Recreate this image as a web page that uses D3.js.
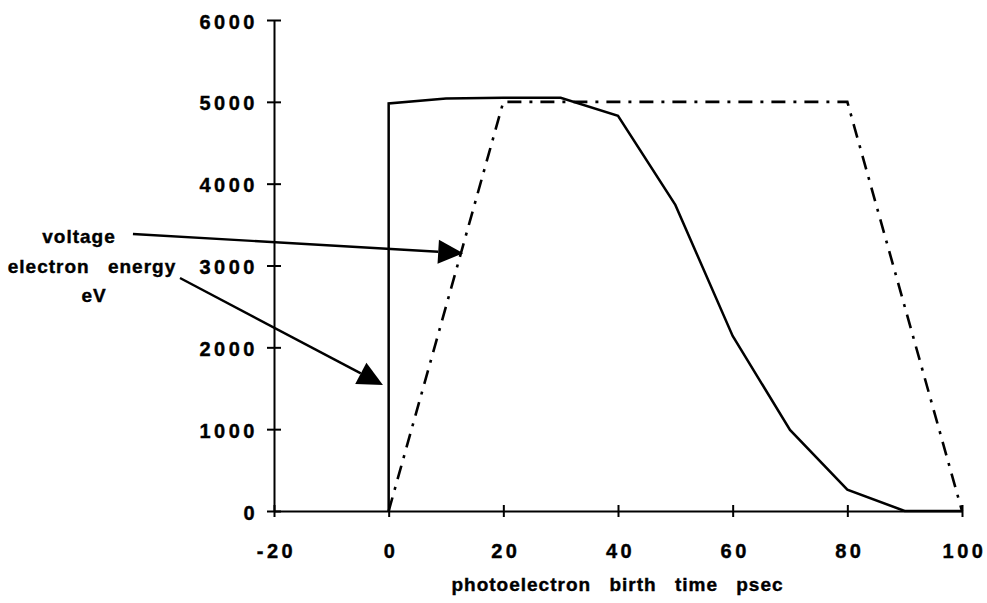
<!DOCTYPE html>
<html>
<head>
<meta charset="utf-8">
<script src="https://cdn.jsdelivr.net/npm/d3@7"></script>
<style>
  body { margin: 0; background: #fff; }
  svg text { font-family: "Liberation Sans", Arial, Helvetica, sans-serif; font-weight: bold; fill: #000; stroke: #000; stroke-width: 0.4px; }
</style>
</head>
<body>
<svg width="987" height="603"></svg>
<script>
// birth time (psec) and energies (eV)
var energyTime = [0, 0, 10, 20, 30, 40, 50, 60, 70, 80, 90, 100];
var energyValue = [0, 4980, 5040, 5050, 5050, 4830, 3740, 2140, 990, 260, 0, 0];
var voltageTime = [0, 20, 80, 100];
var voltageValue = [0, 5000, 5000, 0];
var xTicks = [-20, 0, 20, 40, 60, 80, 100];
var yTicks = [0, 1000, 2000, 3000, 4000, 5000, 6000];

// arrows, in data units: [fromX, fromY, toX, toY]
var arrowVoltage = [-44.6, 3385, 13.0, 3150];
var arrowEnergy = [-36.4, 2847, -1.0, 1540];

var width = 987;
var height = 603;
var margin = {top: 20, right: 25, bottom: 92, left: 274};

var svg = d3.select('svg');
var g = svg.append('g')
  .attr('transform', 'translate(' + margin.left + ',' + margin.top + ')');

var w = width - margin.left - margin.right;
var h = height - margin.top - margin.bottom;

var x = d3.scaleLinear().domain([-20, 100]).range([0, w]);
var y = d3.scaleLinear().domain([0, 6000]).range([h, 0]);

// plain labels: no thousands comma, ascii hyphen for minus
var plain = function(d) { return String(d); };

// axes
var xAxis = g.append('g')
  .attr('transform', 'translate(0,' + h + ')')
  .call(d3.axisBottom(x).tickValues(xTicks).tickFormat(plain).tickSizeOuter(0).tickPadding(0));

var yAxis = g.append('g')
  .call(d3.axisLeft(y).tickValues(yTicks).tickFormat(plain).tickSizeOuter(0).tickPadding(0));

[xAxis, yAxis].forEach(function(a) {
  a.select('.domain').attr('stroke', '#000').attr('stroke-width', 2);
  a.selectAll('.tick line').attr('stroke', '#000').attr('stroke-width', 2);
  a.selectAll('.tick text')
    .style('font-size', '20px')
    .style('letter-spacing', '3.5px');
});

// crossing ticks
xAxis.selectAll('.tick line').attr('y1', -6).attr('y2', 6);
yAxis.selectAll('.tick line').attr('x1', -7).attr('x2', 7);

xAxis.selectAll('.tick text')
  .attr('y', 47)
  .attr('dy', null)
  .attr('dx', 2);
yAxis.selectAll('.tick text')
  .attr('x', -16)
  .attr('dy', 8);

// axis title
g.append('text')
  .attr('x', (452 + 783) / 2 - margin.left)
  .attr('y', 591 - margin.top)
  .attr('text-anchor', 'middle')
  .style('font-size', '19px')
  .style('letter-spacing', '1px')
  .style('word-spacing', '12px')
  .text('photoelectron birth time psec');

// series
var line = d3.line()
  .x(function(d) { return x(d[0]); })
  .y(function(d) { return y(d[1]); });

g.append('path')
  .datum(d3.zip(voltageTime, voltageValue))
  .attr('fill', 'none')
  .attr('stroke', '#000')
  .attr('stroke-width', 2.6)
  .attr('stroke-dasharray', '14,8,3,8')
  .attr('d', line);

g.append('path')
  .datum(d3.zip(energyTime, energyValue))
  .attr('fill', 'none')
  .attr('stroke', '#000')
  .attr('stroke-width', 2.5)
  .attr('stroke-linejoin', 'miter')
  .attr('d', line);

// annotation labels
var labels = [
  {t: 'voltage', x: 79, y: 243},
  {t: 'electron energy', x: 92, y: 273},
  {t: 'eV', x: 94, y: 302}
];
svg.selectAll('text.lab')
  .data(labels)
  .enter()
  .append('text')
  .attr('class', 'lab')
  .attr('x', function(d) { return d.x; })
  .attr('y', function(d) { return d.y; })
  .attr('text-anchor', 'middle')
  .style('font-size', '19px')
  .style('letter-spacing', '1px')
  .style('word-spacing', '12px')
  .text(function(d) { return d.t; });

// arrows with filled heads
function arrow(a) {
  var x0 = x(a[0]), y0 = y(a[1]), x1 = x(a[2]), y1 = y(a[3]);
  var dx = x1 - x0, dy = y1 - y0;
  var len = Math.sqrt(dx * dx + dy * dy);
  var ux = dx / len, uy = dy / len;
  var headLen = 25, headHalf = 12;
  var bx = x1 - ux * headLen, by = y1 - uy * headLen;
  g.append('line')
    .attr('x1', x0).attr('y1', y0)
    .attr('x2', bx).attr('y2', by)
    .attr('stroke', '#000')
    .attr('stroke-width', 2.4);
  g.append('path')
    .attr('d', 'M' + x1 + ',' + y1 +
      'L' + (bx - uy * headHalf) + ',' + (by + ux * headHalf) +
      'L' + (bx + uy * headHalf) + ',' + (by - ux * headHalf) + 'Z')
    .attr('fill', '#000');
}
arrow(arrowVoltage);
arrow(arrowEnergy);
</script>
</body>
</html>
